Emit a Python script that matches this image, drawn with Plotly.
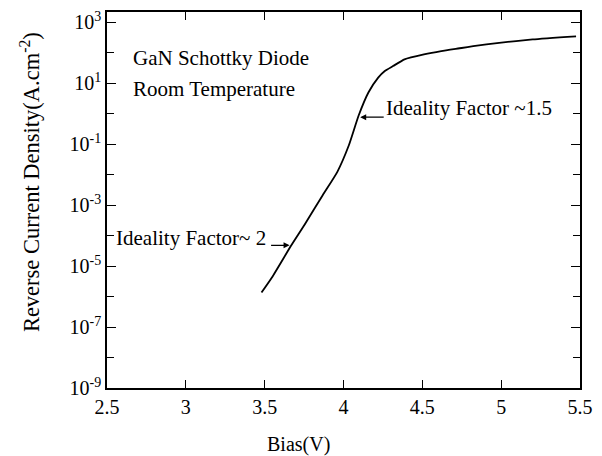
import plotly.graph_objects as go

bias = [3.48, 3.546, 3.666, 3.754, 3.868, 3.961, 4.034, 4.096, 4.158, 4.22, 4.262,
        4.314, 4.387, 4.51, 4.62, 4.749, 4.823, 4.987, 5.20, 5.475]
current_density = [1.35e-6, 4.2e-6, 4.5e-5, 2.3e-4, 2.1e-3, 1.23e-2, 9.1e-2, 0.86,
                   4.9, 15.1, 25, 36, 60, 87, 112, 141, 162, 209, 269, 339]

x_ticks = [2.5, 3, 3.5, 4, 4.5, 5, 5.5]
x_tick_labels = ["2.5", "3", "3.5", "4", "4.5", "5", "5.5"]
y_ticks = [1e-9, 1e-7, 1e-5, 1e-3, 1e-1, 1e1, 1e3]
y_tick_labels = ["10<sup>-9</sup>", "10<sup>-7</sup>", "10<sup>-5</sup>", "10<sup>-3</sup>",
                 "10<sup>-1</sup>", "10<sup>1</sup>", "10<sup>3</sup>"]
y_minor = [1e-8, 1e-6, 1e-4, 1e-2, 1e0, 1e2]

FONT = "Liberation Serif"

fig = go.Figure()
fig.add_trace(go.Scatter(
    x=bias, y=current_density, mode="lines",
    line=dict(color="black", width=1.8, shape="spline", smoothing=0.5),
    showlegend=False,
))

fig.update_layout(
    width=602, height=456,
    margin=dict(l=107, r=13, t=9, b=68),
    paper_bgcolor="white", plot_bgcolor="white",
    font=dict(family=FONT, size=20, color="black"),
    xaxis=dict(
        range=[2.5, 5.5], tickvals=x_ticks, ticktext=x_tick_labels,
        ticks="inside", ticklen=8, tickwidth=1.2, tickcolor="black",
        showline=True, linecolor="black", linewidth=1.5, mirror="ticks",
        showgrid=False, zeroline=False,
        tickfont=dict(family=FONT, size=20),
    ),
    yaxis=dict(
        type="log", range=[-9, 3.33], tickvals=y_ticks, ticktext=y_tick_labels,
        ticks="inside", ticklen=9, tickwidth=1.2, tickcolor="black",
        showline=True, linecolor="black", linewidth=1.5, mirror="ticks",
        showgrid=False, zeroline=False,
        tickfont=dict(family=FONT, size=20),
        minor=dict(tickvals=y_minor, ticks="inside", ticklen=7, tickwidth=1.2,
                   tickcolor="black", showgrid=False),
    ),
)

ann_font = dict(family=FONT, size=21, color="black")
# axis titles
fig.add_annotation(text="Bias(V)", xref="paper", yref="paper", x=(302 - 107) / 482,
                   y=-57 / 379, xanchor="center", yanchor="middle", showarrow=False,
                   font=dict(family=FONT, size=20))
fig.add_annotation(text="Reverse Current Density(A.cm<sup>-2</sup>)", xref="paper",
                   yref="paper", x=-79 / 482, y=(388 - 180) / 379, textangle=-90,
                   xanchor="center", yanchor="middle", showarrow=False,
                   font=dict(family=FONT, size=22.5))
# inset texts
fig.add_annotation(text="GaN Schottky Diode", xref="paper", yref="paper",
                   x=(131 - 107) / 482, y=(388 - 55) / 379, xanchor="left",
                   yanchor="middle", showarrow=False, font=ann_font)
fig.add_annotation(text="Room Temperature", xref="paper", yref="paper",
                   x=(131 - 107) / 482, y=(388 - 87) / 379, xanchor="left",
                   yanchor="middle", showarrow=False, font=ann_font)
fig.add_annotation(text="Ideality Factor ~1.5", xref="paper", yref="paper",
                   x=(389 - 107) / 482, y=(388 - 106) / 379, xanchor="left",
                   yanchor="middle", showarrow=False, font=ann_font)
fig.add_annotation(text="Ideality Factor~ 2", xref="paper", yref="paper",
                   x=(114 - 107) / 482, y=(388 - 237) / 379, xanchor="left",
                   yanchor="middle", showarrow=False, font=ann_font)
# arrows
fig.add_annotation(text="", x=4.106, y=-0.12, ax=25, ay=0, showarrow=True,
                   arrowhead=2, arrowsize=1, arrowwidth=1.2, arrowcolor="black")
fig.add_annotation(text="", x=3.658, y=-4.32, ax=-20, ay=0, showarrow=True,
                   arrowhead=2, arrowsize=1, arrowwidth=1.2, arrowcolor="black")

fig.write_html("out.html")
